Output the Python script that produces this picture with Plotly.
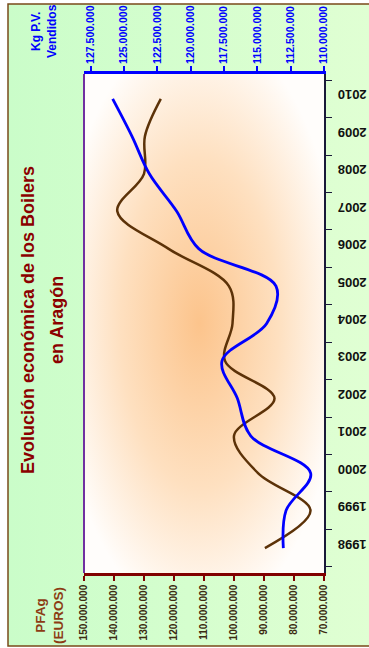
import base64
import plotly.graph_objects as go

# data (millions)
years = ["1998", "1999", "2000", "2001", "2002", "2003", "2004",
         "2005", "2006", "2007", "2008", "2009", "2010"]
pfag_m = [89.7, 74.5, 92.0, 100.0, 86.5, 103.0, 100.5, 101.7, 121.9, 138.9, 130.0, 129.7, 124.4]
kg_m = [113.05, 112.85, 111.0, 115.5, 116.5, 117.65, 114.3, 113.6, 119.4, 121.05, 123.1, 124.4, 125.85]

pfag = [v * 1e6 for v in pfag_m]
kg = [v * 1e6 for v in kg_m]

W, H = 369, 648
L, R, T, B = 84, 45, 74, 75
PW, PH = W - L - R, H - T - B


def px(x):
    return (x - L) / PW


def py(y):
    return (H - B - y) / PH


def svg_uri(svg):
    return "data:image/svg+xml;base64," + base64.b64encode(svg.encode()).decode()


green_svg = ('<svg xmlns="http://www.w3.org/2000/svg" width="100" height="100" preserveAspectRatio="none">'
             '<defs><linearGradient id="g" x1="0" y1="0" x2="1" y2="0">'
             '<stop offset="0" stop-color="#cafdc9"/><stop offset="1" stop-color="#e0ffd3"/>'
             '</linearGradient></defs><rect width="100" height="100" fill="url(#g)"/></svg>')
peach_svg = ('<svg xmlns="http://www.w3.org/2000/svg" width="100" height="100" preserveAspectRatio="none">'
             '<defs><radialGradient id="r" cx="0.48" cy="0.5" r="0.6">'
             '<stop offset="0" stop-color="#fcc48c"/><stop offset="0.55" stop-color="#fee0c0"/>'
             '<stop offset="1" stop-color="#fffdfb"/>'
             '</radialGradient></defs><rect width="100" height="100" fill="url(#r)"/></svg>')

FONT = "Arial, Liberation Sans, sans-serif"

fig = go.Figure()
fig.add_trace(go.Scatter(x=pfag, y=years, mode="lines", xaxis="x", yaxis="y",
                         line=dict(color="#5c3208", width=2.5, shape="spline"),
                         name="PFAg", hoverinfo="x+y"))
fig.add_trace(go.Scatter(x=kg, y=years, mode="lines", xaxis="x2", yaxis="y",
                         line=dict(color="#0000ff", width=2.8, shape="spline"),
                         name="Kg P.V.", hoverinfo="x+y"))

fig.update_layout(
    width=W, height=H,
    margin=dict(l=L, r=R, t=T, b=B, autoexpand=False),
    paper_bgcolor="white",
    plot_bgcolor="rgba(0,0,0,0)",
    showlegend=False,
    separators=",.",
    xaxis=dict(range=[150e6, 70e6], dtick=10e6, tick0=70e6, tickformat=",.0f", automargin=False,
               tickangle=-90, ticks="outside", ticklen=5, tickwidth=2, tickcolor="#800000",
               showline=True, linecolor="#800000", linewidth=2.5, showgrid=False, zeroline=False,
               tickfont=dict(family=FONT, size=10, color="#3c2a10", weight="bold")),
    xaxis2=dict(range=[128e6, 110e6], dtick=2.5e6, tick0=110e6, tickformat=",.0f", automargin=False,
                overlaying="x", side="top", anchor="y",
                tickangle=-90, ticks="outside", ticklen=5, tickwidth=2, tickcolor="#0000ff",
                showline=True, linecolor="#0000ff", linewidth=3, showgrid=False, zeroline=False,
                tickfont=dict(family=FONT, size=10.5, color="#0000ff", weight="bold")),
    yaxis=dict(type="category", categoryorder="array", categoryarray=years, automargin=False,
               side="right", tickson="boundaries", ticks="outside", ticklen=6, tickwidth=1,
               tickcolor="#1a1a3a", tickangle=180, ticklabelstandoff=38, showline=True,
               linecolor="#1a1a3a", linewidth=2, showgrid=False, zeroline=False,
               tickfont=dict(family=FONT, size=13, color="#111111", weight="bold")),
    images=[
        dict(source=svg_uri(green_svg), xref="paper", yref="paper",
             x=px(8), y=py(4), sizex=(W - 8) / PW, sizey=(646 - 4) / PH,
             sizing="stretch", layer="below", xanchor="left", yanchor="top"),
        dict(source=svg_uri(peach_svg), xref="x domain", yref="y domain",
             x=0, y=1, sizex=1, sizey=1, sizing="stretch", layer="below",
             xanchor="left", yanchor="top"),
    ],
    shapes=[
        dict(type="rect", xref="paper", yref="paper", x0=px(8), x1=px(W + 5), y0=py(646), y1=py(4),
             line=dict(color="#7a4a1a", width=1.5), fillcolor="rgba(0,0,0,0)", layer="above"),
        dict(type="line", xref="x domain", yref="y domain", x0=0, x1=0, y0=0, y1=1,
             line=dict(color="#7030a0", width=2)),
    ],
    annotations=[
        dict(text="Evolución económica de los Boilers", textangle=-90, showarrow=False,
             xref="paper", yref="paper", x=px(28), y=py(320), xanchor="center", yanchor="middle",
             font=dict(family=FONT, size=18, color="#8b0000", weight="bold")),
        dict(text="en Aragón", textangle=-90, showarrow=False,
             xref="paper", yref="paper", x=px(57), y=py(320), xanchor="center", yanchor="middle",
             font=dict(family=FONT, size=18, color="#8b0000", weight="bold")),
        dict(text="Kg P.V.<br>Vendidos", textangle=-90, showarrow=False,
             xref="paper", yref="paper", x=px(44), y=py(31), xanchor="center", yanchor="middle",
             font=dict(family=FONT, size=12, color="#0000ff", weight="bold")),
        dict(text="PFAg<br>(EUROS)", textangle=-90, showarrow=False,
             xref="paper", yref="paper", x=px(49), y=py(616), xanchor="center", yanchor="middle",
             font=dict(family=FONT, size=13.5, color="#8c3c14", weight="bold")),
    ],
)

# the page body has an 8px default margin; drop it so the figure fills the window
fig.write_html("out.html", config={"displayModeBar": False},
               post_script="document.body.style.margin='0';")
